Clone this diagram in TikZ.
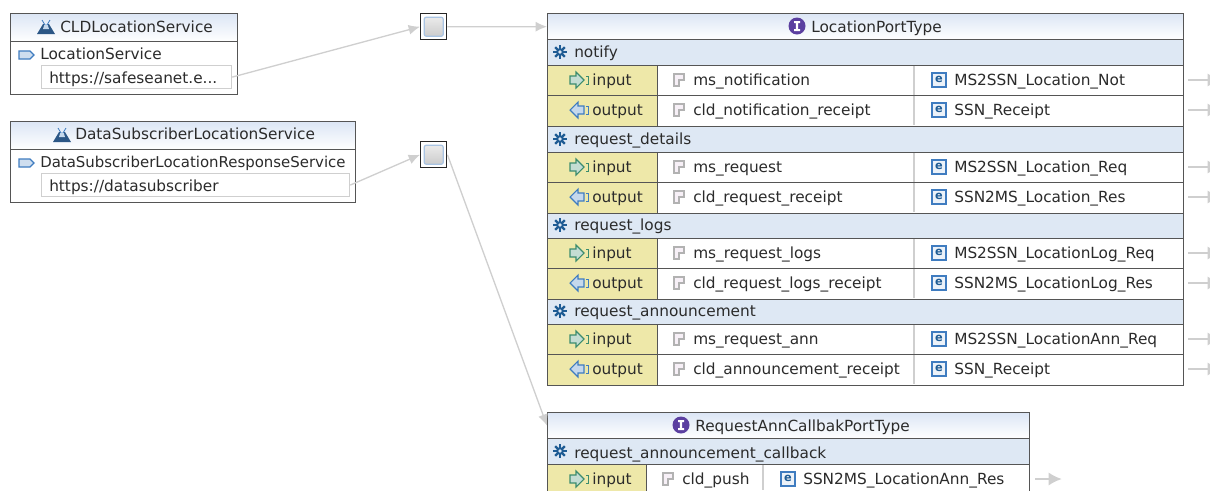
\documentclass[tikz,border=0pt]{standalone}
\usepackage{fontspec}
\setmainfont{DejaVu Sans}
\usetikzlibrary{arrows.meta}

\definecolor{framegray}{HTML}{555555}
\definecolor{linegray}{HTML}{CFCFCF}
\definecolor{bandblue}{HTML}{DEE8F4}
\definecolor{headblue}{HTML}{DCE6F5}
\definecolor{kindyellow}{HTML}{EEE8A9}
\definecolor{inkgray}{HTML}{2B2B2B}
\definecolor{iconblue}{HTML}{3F7CC0}
\definecolor{gearblue}{HTML}{1F5C94}
\definecolor{ifacepurple}{HTML}{5B3FA0}
\definecolor{ingreen}{HTML}{3C8C6E}

\tikzset{
	sized/.style n args={2}{minimum width=#1*.75pt, minimum height=#2*.75pt},
	lbl/.style={anchor=base west, inner sep=0pt, text=inkgray, font=\fontsize{11.5}{14}\selectfont},
	framebox/.style={anchor=north west, draw=framegray, line width=1pt, inner sep=0pt, fill=white},
	headbox/.style={framebox, top color=headblue, bottom color=white},
	bandbox/.style={framebox, fill=bandblue, line width=.9pt},
	kindbox/.style={framebox, fill=kindyellow, line width=.9pt},
	plainbox/.style={framebox, line width=.9pt},
	urlbox/.style={anchor=north west, draw=linegray, line width=.9pt, fill=white, inner sep=0pt},
	dotbox/.style={anchor=north west, draw=black!85, line width=1.1pt, fill=white, inner sep=0pt, sized={26}{26}},
	dotface/.style={draw=iconblue!45, line width=.9pt, rounded corners=1.5pt, top color=black!8, bottom color=black!20, inner sep=0pt, sized={19}{19}},
	conn/.style={-{Latex[length=8.5pt,width=7.5pt]}, draw=linegray, line width=1pt},
	stub/.style={-{Latex[length=10pt,width=10pt]}, draw=linegray, line width=2.2pt},
	pics/flask/.style={code={
		\fill[iconblue!70!black] (-9,7) -- (-3,-3) -- (3,-3) -- (9,7) -- cycle;
		\fill[white!70!iconblue] (-1.5,-3) -- (1.5,-3) -- (3,2) -- (-3,2) -- cycle;
		\draw[iconblue, line width=.6pt] (-4,-7) -- (-1,-2) (4,-7) -- (1,-2);
	}},
	pics/porttag/.style={code={
		\draw[iconblue, fill=iconblue!25, line width=.9pt] (-7,-4) -- (4,-4) -- (8,0) -- (4,4) -- (-7,4) -- cycle;
	}},
	pics/iface/.style={code={
		\fill[ifacepurple] (0,0) circle (8.5);
		\fill[white] (-3,-5) rectangle (3,-3) (-1.2,-3) rectangle (1.2,3) (-3,3) rectangle (3,5);
	}},
	pics/gear/.style={code={
		\foreach \a in {0,45,...,315}
			\draw[gearblue, line width=1.8pt, rotate=\a] (0,3) -- (0,6.8);
		\draw[gearblue, fill=bandblue, line width=1.5pt] (0,0) circle (2.8);
	}},
	pics/kindin/.style={code={
		\draw[ingreen, fill=ingreen!30, line width=.8pt] (-8,-4) -- (-2,-4) -- (-2,-8) -- (6,0) -- (-2,8) -- (-2,4) -- (-8,4) -- cycle;
		\draw[ingreen, line width=.7pt] (8,-4) -- (10,-4) -- (10,4) -- (8,4);
	}},
	pics/kindout/.style={code={
		\draw[iconblue, fill=iconblue!30, line width=.8pt] (6,-4) -- (0,-4) -- (0,-8) -- (-8,0) -- (0,8) -- (0,4) -- (6,4) -- cycle;
		\draw[iconblue, line width=.7pt] (8,-4) -- (10,-4) -- (10,4) -- (8,4);
	}},
	pics/msgpart/.style={code={
		\draw[black!30, fill=violet!6, line width=.9pt] (-5,-6) -- (5,-6) -- (5,0) -- (0,0) -- (0,6) -- (-5,6) -- cycle;
	}},
	pics/elem/.style={code={
		\draw[iconblue, fill=iconblue!10, line width=.9pt] (-7,-7) rectangle (7,7);
		\node[inner sep=0pt, text=gearblue, font=\bfseries\fontsize{8.5}{9}\selectfont] at (0,-.5) {e};
	}},
}

\begin{document}
\begin{tikzpicture}[x=.75pt, y=-.75pt, >=Latex]
	\path[use as bounding box, clip] (0,0) rectangle (1210,490);
	%services
	\node[framebox, sized={227}{81}] (cldbody) at (10,13) {};
	\node[headbox, sized={227}{28}] (cldhead) at (10,13) {};
	\pic at (46,27) {flask};
	\node[lbl] (cldname) at (60,32) {CLDLocationService};
	\pic at (26,55) {porttag};
	\node[lbl] (cldport) at (40,59) {LocationService};
	\node[urlbox, sized={190}{23}] (cldurl) at (41,65) {};
	\node[lbl] (cldtext) at (49,83) {https://safeseanet.e...};

	\node[framebox, sized={345}{81}] (subbody) at (10,121) {};
	\node[headbox, sized={345}{28}] (subhead) at (10,121) {};
	\pic at (62,135) {flask};
	\node[lbl] (subname) at (75,139) {DataSubscriberLocationService};
	\pic at (26,163) {porttag};
	\node[lbl, font=\fontsize{11.2}{14}\selectfont] (subport) at (40,167) {DataSubscriberLocationResponseService};
	\node[urlbox, sized={308}{23}] (suburl) at (41,173) {};
	\node[lbl] (subtext) at (49,191) {https://datasubscriber};

	%small squares
	\node[dotbox] (dota) at (420,13) {};
	\node[dotface] at (dota.center) {};
	\node[dotbox] (dotb) at (420,141) {};
	\node[dotface] at (dotb.center) {};

	%first table
	\node[headbox, sized={636}{26}] (porthead) at (547,13) {};
	\pic at (797,26) {iface};
	\node[lbl] (portname) at (811,32) {LocationPortType};
	\foreach \by/\bname [count=\b] in {39/notify, 126/request\_details, 212/request\_logs, 298/request\_announcement} {
		\node[bandbox, sized={636}{26}] (band\b) at (547,\by) {};
		\pic at (560,\by+13) {gear};
		\node[lbl] (bandtext\b) at (574,\by+18) {\bname};
	}
	\foreach \ry/\rkind/\rtext/\rpart/\relem [count=\r] in {
		65/in/input/ms\_notification/MS2SSN\_Location\_Not,
		95/out/output/cld\_notification\_receipt/SSN\_Receipt,
		152/in/input/ms\_request/MS2SSN\_Location\_Req,
		182/out/output/cld\_request\_receipt/SSN2MS\_Location\_Res,
		238/in/input/ms\_request\_logs/MS2SSN\_LocationLog\_Req,
		268/out/output/cld\_request\_logs\_receipt/SSN2MS\_LocationLog\_Res,
		324/in/input/ms\_request\_ann/MS2SSN\_LocationAnn\_Req,
		354/out/output/cld\_announcement\_receipt/SSN\_Receipt} {
		\node[plainbox, sized={636}{30.5}] (row\r) at (547,\ry) {};
		\node[kindbox, sized={110}{30.5}] (kind\r) at (547,\ry) {};
		\draw[linegray, line width=.9pt] (914,\ry+1) -- (914,\ry+30);
		\pic at (578,\ry+15) {kind\rkind};
		\node[lbl] (kindtext\r) at (592,\ry+20) {\rtext};
		\pic at (679,\ry+15) {msgpart};
		\node[lbl] (parttext\r) at (693,\ry+20) {\rpart};
		\pic at (939,\ry+15) {elem};
		\node[lbl] (elemtext\r) at (954,\ry+20) {\relem};
		\coordinate (stubfrom\r) at (1188,\ry+15);
		\coordinate (stubto\r) at (1221,\ry+15);
		\draw[stub] (stubfrom\r) -- (stubto\r);
	}

	%second table
	\node[headbox, sized={482}{26}] (backhead) at (547,412) {};
	\pic at (681,425) {iface};
	\node[lbl] (backname) at (695,431) {RequestAnnCallbakPortType};
	\node[bandbox, sized={482}{26}] (backband) at (547,438) {};
	\pic at (560,451) {gear};
	\node[lbl] (backbandtext) at (574,458) {request\_announcement\_callback};
	\node[plainbox, sized={482}{40}] (backrow) at (547,464) {};
	\node[kindbox, sized={99}{40}] (backkind) at (547,464) {};
	\draw[linegray, line width=.9pt] (763,465) -- (763,490);
	\pic at (578,479) {kindin};
	\node[lbl] (backkindtext) at (592,484) {input};
	\pic at (668,479) {msgpart};
	\node[lbl] (backpart) at (682,484) {cld\_push};
	\pic at (788,479) {elem};
	\node[lbl] (backelem) at (803,484) {SSN2MS\_LocationAnn\_Res};
	\coordinate (backfrom) at (1035,479);
	\coordinate (backto) at (1062,479);
	\draw[stub] (backfrom) -- (backto);

	%connectors
	\draw[conn] (cldurl.east) -- (dota.west);
	\draw[conn] (suburl.east) -- (dotb.west);
	\draw[conn] (dota.east) -- (porthead.west);
	\draw[conn] (dotb.east) -- (backhead.west);
\end{tikzpicture}
\end{document}
